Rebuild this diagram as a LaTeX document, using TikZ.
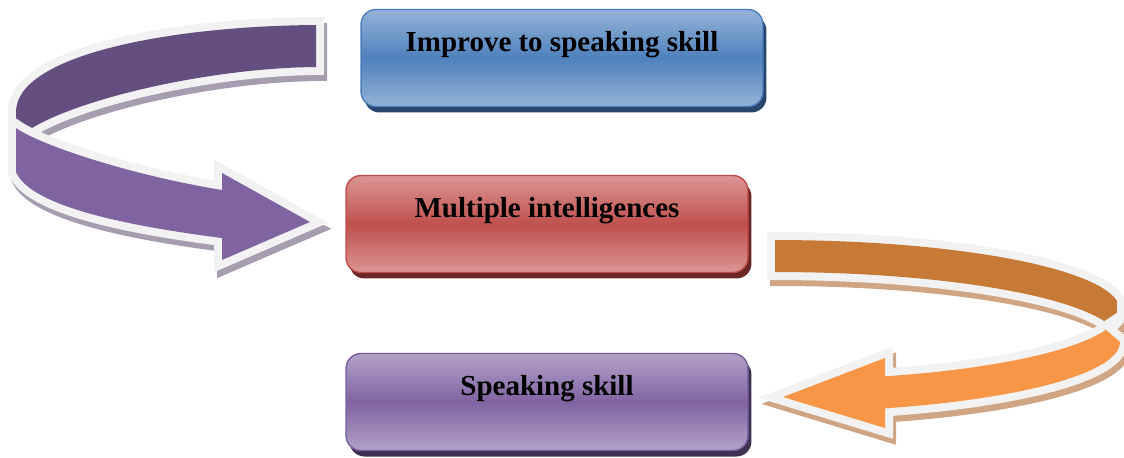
\documentclass[tikz,border=0pt]{standalone}
\usepackage{fontspec}
\setmainfont{Liberation Serif}
\usetikzlibrary{shadows}

\definecolor{blueLight}{HTML}{95B3D7}
\definecolor{blueMid}{HTML}{4F81BD}
\definecolor{blueEdge}{HTML}{4A7DBA}
\definecolor{blueShadow}{HTML}{29466E}
\definecolor{redLight}{HTML}{DA9694}
\definecolor{redMid}{HTML}{C0504D}
\definecolor{redEdge}{HTML}{BE4B48}
\definecolor{redShadow}{HTML}{6B2725}
\definecolor{violetLight}{HTML}{B3A2C7}
\definecolor{violetMid}{HTML}{8064A2}
\definecolor{violetEdge}{HTML}{7A5E9E}
\definecolor{violetShadow}{HTML}{3F3153}
\definecolor{violetBack}{HTML}{654F80}
\definecolor{violetGrey}{HTML}{A69DB1}
\definecolor{orangeBack}{HTML}{C77A35}
\definecolor{orangeFront}{HTML}{F79646}
\definecolor{orangeGrey}{HTML}{D0A584}
\definecolor{ribbonWhite}{HTML}{F2F2F2}

\tikzset{
  box/.style={rectangle, rounded corners=0.3cm, minimum width=8.04cm, minimum height=1.94cm,
    text height=0.4cm, text depth=0.66cm, line width=0.8pt,
    font=\bfseries\fontsize{16.5}{20}\selectfont},
  bluebox/.style={box, draw=blueEdge, top color=blueLight, bottom color=blueLight, middle color=blueMid,
    drop shadow={shadow xshift=0.07cm, shadow yshift=-0.12cm, fill=blueShadow, opacity=1}},
  redbox/.style={box, draw=redEdge, top color=redLight, bottom color=redLight, middle color=redMid,
    drop shadow={shadow xshift=0.07cm, shadow yshift=-0.12cm, fill=redShadow, opacity=1}},
  violetbox/.style={box, draw=violetEdge, top color=violetLight, bottom color=violetLight, middle color=violetMid,
    drop shadow={shadow xshift=0.07cm, shadow yshift=-0.12cm, fill=violetShadow, opacity=1}},
  band/.style 2 args={preaction={draw=#2, fill=#2, line width=0.32cm, transform canvas={xshift=0.06cm, yshift=-0.12cm}},
    preaction={draw=ribbonWhite, line width=0.32cm}, fill=#1},
}

\begin{document}
\begin{tikzpicture}[x=0.02cm,y=-0.02cm]
\useasboundingbox (0,0) rectangle (1124,457);
%purple arrow, back then front
\path[band={violetBack}{violetGrey}] (316,25) .. controls (170,26) and (16,55) .. (16,112) -- (16,140)
  .. controls (50,105) and (200,68) .. (316,67) -- cycle;
\path[band={violetMid}{violetGrey}] (16,128) .. controls (40,145) and (130,175) .. (222,190) -- (222,173)
  -- (310,222) -- (222,260) -- (222,238) .. controls (120,225) and (30,205) .. (16,172) -- cycle;
%orange arrow, back then front
\path[band={orangeBack}{orangeGrey}] (775,240) -- plot[domain=-90:-7.6, samples=30] ({775+345*cos(\x)},{310+70*sin(\x)})
  -- (1117,333) -- plot[domain=-7.6:-90, samples=30] ({775+345*cos(\x)},{342+70*sin(\x)}) -- cycle;
\path[band={orangeFront}{orangeGrey}] (1106,330) -- plot[domain=16:71.4, samples=30] ({775+345*cos(\x)},{310+70*sin(\x)})
  -- (885,358) -- (783,397) -- (885,428) -- plot[domain=71.4:0, samples=30] ({775+345*cos(\x)},{342+70*sin(\x)}) -- cycle;
%boxes
\node[bluebox] (improve) at (562,58) {Improve to speaking skill};
\node[redbox] (multiple) at (547,224) {Multiple intelligences};
\node[violetbox] (speaking) at (547,402) {Speaking skill};
\end{tikzpicture}
\end{document}
